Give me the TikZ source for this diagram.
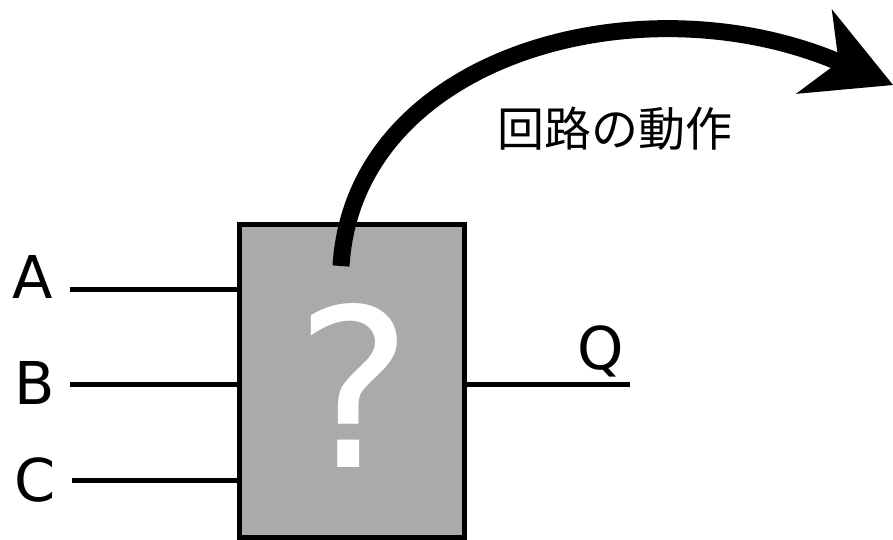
\documentclass[tikz,border=0pt]{standalone}
\usepackage{fontspec}
\setmainfont{DejaVu Sans}
\newfontfamily\cjk{Noto Sans CJK JP}
\usetikzlibrary{arrows.meta}
\tikzset{
  wire/.style={line width=5pt},
  lbl/.style={inner sep=0pt, font=\fontsize{59}{62}\selectfont},
  blockbox/.style={draw, line width=5pt, fill={rgb,255:red,170;green,170;blue,170}, minimum width=225pt, minimum height=313pt, inner sep=0pt},
  bigarrow/.style={line width=17pt, -{Stealth[length=86pt, width=92pt, inset=27pt, line width=0pt]}}
}
\begin{document}
\begin{tikzpicture}[x=1pt, y=-1pt]
\useasboundingbox (0,0) rectangle (893,540);
\node[blockbox] (box) at (351.5,380.5) {};
\node[inner sep=0pt, text=white, font=\fontsize{221}{225}\selectfont] (qm) at (354,385) {?};
\node[lbl] (A) at (33,277) {A};
\node[lbl] (B) at (35,383) {B};
\node[lbl] (C) at (35,480) {C};
\node[lbl, anchor=base] (Q) at (601,369) {Q};
\coordinate (ain) at (70,289.5);
\coordinate (bin) at (70,384);
\coordinate (cin) at (72,480);
\coordinate (qout) at (630,384);
\draw[wire] (ain) -- (ain -| box.west);
\draw[wire] (bin) -- (bin -| box.west);
\draw[wire] (cin) -- (cin -| box.west);
\draw[wire] (qout -| box.east) -- (qout);
\node[inner sep=0pt, font=\cjk\fontsize{47}{50}\selectfont] (op) at (615,129) {回路の動作};
\coordinate (s) at (341,266);
\coordinate (t) at (893,85);
\draw[bigarrow] (s) .. controls (354,55) and (640,-22) .. (t);
\end{tikzpicture}
\end{document}
